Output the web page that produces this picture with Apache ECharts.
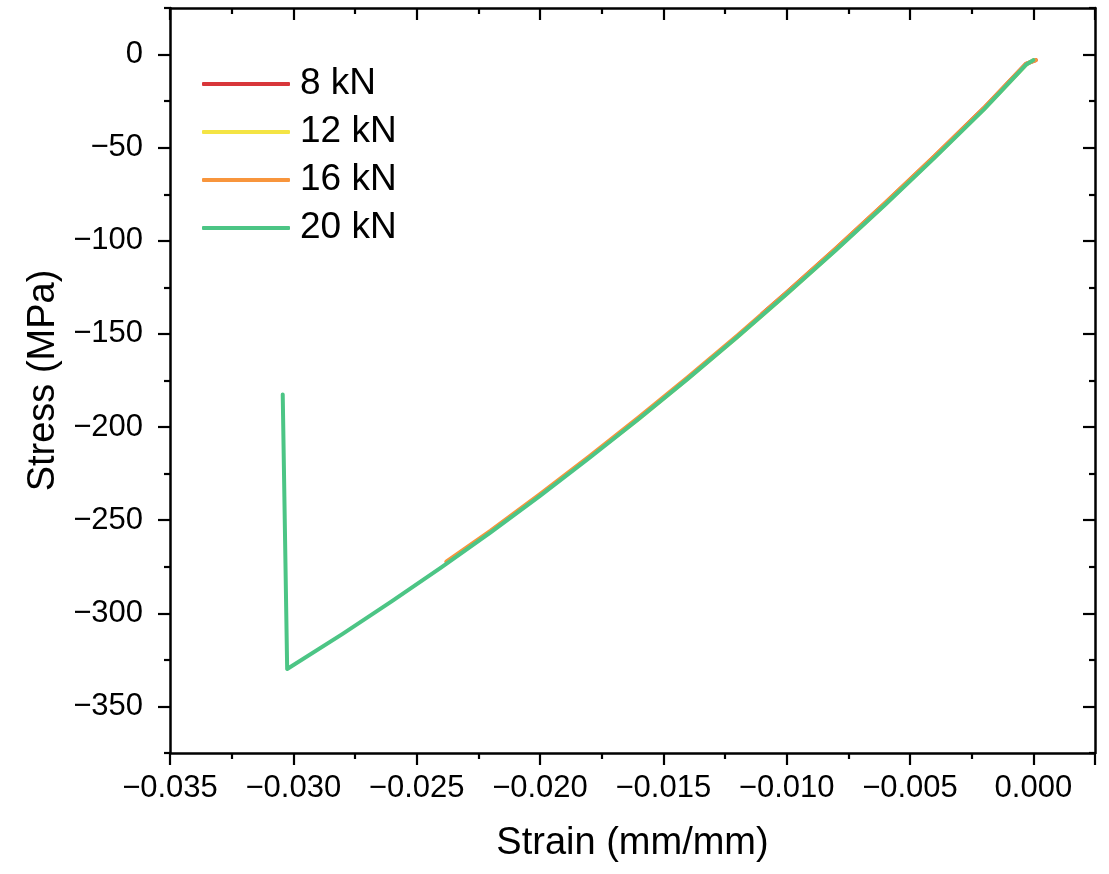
<!DOCTYPE html>
<html>
<head>
<meta charset="utf-8">
<script src="https://cdn.jsdelivr.net/npm/echarts@6/dist/echarts.min.js"></script>
<style>
  html, body { margin: 0; padding: 0; background: #fff; }
  #chart { width: 1109px; height: 874px; }
</style>
</head>
<body>
<div id="chart"></div>
<script>
// 数据
var strain8 = [0.0001, -0.0003, -0.0020, -0.0040, -0.0060, -0.0080, -0.0100, -0.0110];
var stress8 = [-3, -5, -28.7, -54.5, -79.7, -104.1, -127.8, -139.3];

var strain12 = [0.0000, -0.0003, -0.0020, -0.0040, -0.0060, -0.0080, -0.0100, -0.0120, -0.0140, -0.0160, -0.0172];
var stress12 = [-3, -5.5, -29.3, -55.2, -80.4, -104.8, -128.5, -151.6, -173.9, -195.6, -208];

var strain16 = [0.0001, -0.0003, -0.0020, -0.0040, -0.0060, -0.0080, -0.0100, -0.0120, -0.0140, -0.0160, -0.0180, -0.0200, -0.0220, -0.0238];
var stress16 = [-3, -5, -28.6, -54.4, -79.6, -104, -127.7, -150.8, -173.1, -194.8, -215.7, -236, -255.6, -272.2];

var strain20 = [0.0000, -0.0003, -0.0020, -0.0040, -0.0060, -0.0080, -0.0100, -0.0120, -0.0140, -0.0160, -0.0180, -0.0200, -0.0220, -0.0240, -0.0260, -0.0280, -0.03025, -0.03043];
var stress20 = [-3, -5.5, -29.4, -55.3, -80.5, -104.9, -128.6, -151.7, -174, -195.7, -216.6, -236.9, -256.5, -275.3, -293.5, -311, -329.9, -182.5];

var seriesNames = ['8 kN', '12 kN', '16 kN', '20 kN'];
var seriesColors = ['#d8363a', '#f4e444', '#f8953c', '#4cc585'];

var yMajor = [-350, -300, -250, -200, -150, -100, -50, 0];
var yMinor = [-375, -325, -275, -225, -175, -125, -75, -25, 25];

function pairs(xs, ys) {
    return xs.map(function (x, i) { return [x, ys[i]]; });
}
function minus(s) {
    return s.replace('-', '\u2212');
}

var myChart = echarts.init(document.getElementById('chart'));

var axisLine = { show: true, onZero: false, lineStyle: { color: '#000', width: 2.5 } };
var tickStyle = { color: '#000', width: 2.2 };

option = {
    animation: false,
    backgroundColor: '#fff',
    grid: {
        left: 170,
        top: 8,
        right: 14,
        bottom: 121
    },
    legend: {
        left: 197,
        top: 60,
        orient: 'vertical',
        icon: 'roundRect',
        itemWidth: 88,
        itemHeight: 4,
        itemGap: 10,
        data: seriesNames,
        textStyle: {
            fontFamily: 'Liberation Sans, Arial',
            fontSize: 37,
            color: '#000',
            lineHeight: 38,
            padding: [0, 0, 0, 5]
        }
    },
    xAxis: [{
        type: 'value',
        position: 'bottom',
        min: -0.035,
        max: 0.0025,
        interval: 0.005,
        name: 'Strain (mm/mm)',
        nameLocation: 'middle',
        nameGap: 72,
        nameTextStyle: { fontFamily: 'Liberation Sans, Arial', fontSize: 38, color: '#000' },
        axisLine: axisLine,
        axisTick: { show: true, length: 12, lineStyle: tickStyle },
        minorTick: { show: true, splitNumber: 2, length: 6, lineStyle: tickStyle },
        axisLabel: {
            margin: 20,
            fontFamily: 'Liberation Sans, Arial',
            fontSize: 31,
            color: '#000',
            showMaxLabel: false,
            formatter: function (v) {
                if (Math.abs(v) < 1e-9) return '0.000';
                return minus(v.toFixed(3));
            }
        },
        splitLine: { show: false }
    }, {
        type: 'value',
        position: 'top',
        min: -0.035,
        max: 0.0025,
        interval: 0.005,
        axisLine: axisLine,
        axisTick: { show: true, inside: true, length: 12, lineStyle: tickStyle },
        minorTick: { show: true, splitNumber: 2, length: 6, lineStyle: tickStyle },
        axisLabel: { show: false },
        splitLine: { show: false }
    }],
    yAxis: [{
        type: 'value',
        position: 'left',
        min: -375,
        max: 25,
        name: 'Stress (MPa)',
        nameLocation: 'middle',
        nameGap: 104,
        nameTextStyle: { fontFamily: 'Liberation Sans, Arial', fontSize: 38, color: '#000' },
        axisLine: axisLine,
        axisTick: { show: true, length: 12, customValues: yMajor, lineStyle: tickStyle },
        axisLabel: {
            margin: 27,
            fontFamily: 'Liberation Sans, Arial',
            fontSize: 31,
            color: '#000',
            customValues: yMajor,
            formatter: function (v) { return minus(String(v)); }
        },
        splitLine: { show: false }
    }, {
        type: 'value',
        position: 'left',
        min: -375,
        max: 25,
        axisLine: { show: false, onZero: false },
        axisTick: { show: true, length: 6, customValues: yMinor, lineStyle: tickStyle },
        axisLabel: { show: false },
        splitLine: { show: false }
    }, {
        type: 'value',
        position: 'right',
        min: -375,
        max: 25,
        axisLine: axisLine,
        axisTick: { show: true, inside: true, length: 12, customValues: yMajor, lineStyle: tickStyle },
        axisLabel: { show: false },
        splitLine: { show: false }
    }, {
        type: 'value',
        position: 'right',
        min: -375,
        max: 25,
        axisLine: { show: false, onZero: false },
        axisTick: { show: true, inside: true, length: 6, customValues: yMinor, lineStyle: tickStyle },
        axisLabel: { show: false },
        splitLine: { show: false }
    }],
    series: [
        [strain8, stress8],
        [strain12, stress12],
        [strain16, stress16],
        [strain20, stress20]
    ].map(function (d, i) {
        return {
            name: seriesNames[i],
            type: 'line',
            xAxisIndex: 0,
            yAxisIndex: 0,
            symbol: 'none',
            data: pairs(d[0], d[1]),
            itemStyle: { color: seriesColors[i] },
            lineStyle: { color: seriesColors[i], width: 4, cap: 'round', join: 'round' }
        };
    })
};
myChart.setOption(option);
</script>
</body>
</html>
